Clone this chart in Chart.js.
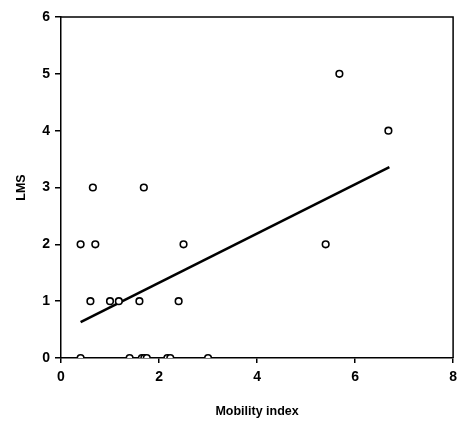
<!DOCTYPE html>
<html>
<head>
<meta charset="utf-8">
<script src="https://cdn.jsdelivr.net/npm/chart.js@4.4.0/dist/chart.umd.min.js"></script>
<style>
  html, body { margin: 0; padding: 0; background: #fff; }
  #wrap { width: 458px; height: 423px; }
</style>
</head>
<body>
<div id="wrap"><canvas id="myChart"></canvas></div>
<script>
// observed points: mobility index vs LMS
var mobilityValues = [0.4, 0.4, 0.6, 0.65, 0.7, 1.0, 1.18, 1.4, 1.6, 1.65, 1.7, 1.75, 1.69, 2.17, 2.23, 2.4, 2.5, 3.0, 5.4, 5.68, 6.68];
var lmsValues      = [0,   2,   1,   3,    2,   1,   1,    0,   1,   0,    0,   0,    3,    0,    0,    1,   2,   0,   2,   5,    4];

// regression line end points
var trendX = [0.4, 6.7];
var trendY = [0.63, 3.36];

var xTicks = [0, 2, 4, 6, 8];
var yTicks = [0, 1, 2, 3, 4, 5, 6];

var scatterData = mobilityValues.map(function (v, i) { return { x: v, y: lmsValues[i] }; });
var trendData = trendX.map(function (v, i) { return { x: v, y: trendY[i] }; });

// box around plot area (top and right edges)
var frameBox = {
  id: 'frameBox',
  afterDraw: function (chart) {
    var a = chart.chartArea, c = chart.ctx;
    c.save();
    c.strokeStyle = '#000';
    c.lineWidth = 1.5;
    c.beginPath();
    c.moveTo(a.left, a.top);
    c.lineTo(a.right, a.top);
    c.lineTo(a.right, a.bottom);
    c.stroke();
    c.restore();
  }
};

var tickFont = { family: 'Liberation Sans, Arial, sans-serif', size: 14, weight: 'bold' };
var titleFont = { family: 'Liberation Sans, Arial, sans-serif', size: 12.5, weight: 'bold' };

new Chart(document.getElementById('myChart'), {
  type: 'scatter',
  data: {
    datasets: [
      {
        label: 'LMS',
        data: scatterData,
        pointStyle: 'circle',
        pointRadius: 3.3,
        pointBorderWidth: 1.6,
        borderColor: '#000',
        backgroundColor: '#fff',
        pointHoverRadius: 3.3
      },
      {
        type: 'line',
        label: 'trend',
        data: trendData,
        borderColor: '#000',
        borderWidth: 2.6,
        pointRadius: 0,
        fill: false
      }
    ]
  },
  plugins: [frameBox],
  options: {
    responsive: true,
    maintainAspectRatio: false,
    animation: false,
    layout: { padding: { left: 0, top: 17, right: 2, bottom: 0 } },
    plugins: {
      legend: { display: false },
      tooltip: { enabled: false }
    },
    scales: {
      x: {
        type: 'linear',
        min: 0, max: 8,
        afterBuildTicks: function (s) { s.ticks = xTicks.map(function (v) { return { value: v }; }); },
        afterFit: function (s) { s.height = 65; s.paddingRight = 0; s.paddingLeft = 0; },
        grid: { drawOnChartArea: false, tickLength: 5, color: '#000', lineWidth: 1.5 },
        border: { color: '#000', width: 1.5 },
        ticks: { color: '#000', font: tickFont, padding: 6, maxRotation: 0 },
        title: { display: true, text: 'Mobility index', color: '#000', font: titleFont, padding: { top: 11 } }
      },
      y: {
        type: 'linear',
        min: 0, max: 6,
        afterBuildTicks: function (s) { s.ticks = yTicks.map(function (v) { return { value: v }; }); },
        afterFit: function (s) { s.width = 61; s.paddingTop = 0; s.paddingBottom = 0; },
        grid: { drawOnChartArea: false, tickLength: 6, color: '#000', lineWidth: 1.5 },
        border: { color: '#000', width: 1.5 },
        ticks: { color: '#000', font: tickFont, padding: 5 },
        title: { display: true, text: 'LMS', color: '#000', font: titleFont, padding: { top: 14 } }
      }
    }
  }
});
</script>
</body>
</html>
